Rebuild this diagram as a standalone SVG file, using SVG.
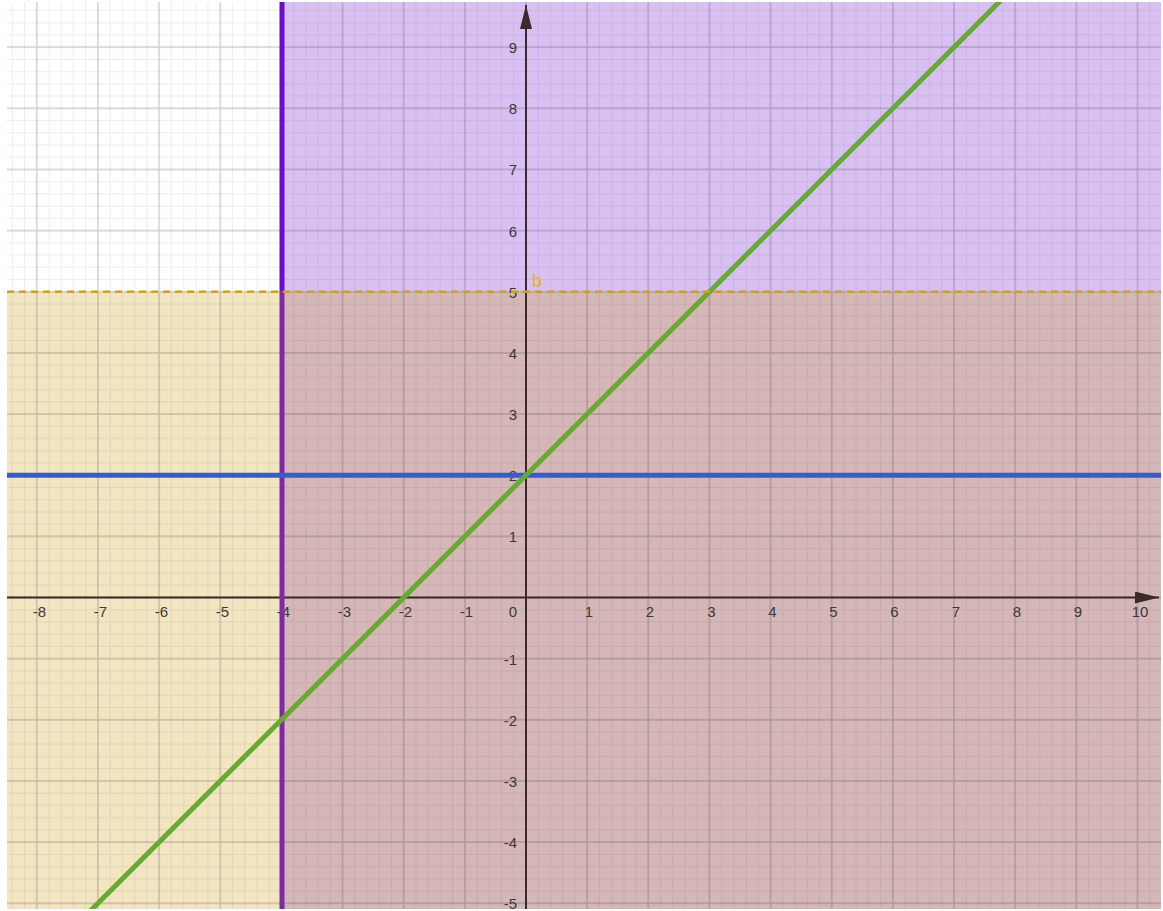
<svg xmlns="http://www.w3.org/2000/svg" width="1163" height="911" viewBox="0 0 1163 911">
<style>
.lbl{font-family:"Liberation Sans",Arial,sans-serif;font-size:15px;fill:#3a3a3a}
.xl{text-anchor:middle}
.yl{text-anchor:end}
.minor{stroke:#000;stroke-opacity:0.07;stroke-width:1}
.major{stroke:#000;stroke-opacity:0.19;stroke-width:1.4}
</style>
<defs>
<clipPath id="plot"><rect x="7" y="2" width="1154" height="907"/></clipPath>
<pattern id="grid" patternUnits="userSpaceOnUse" x="495.425" y="566.925" width="61.15" height="61.15">
<path class="minor" d="M6.115 0V61.15M18.345 0V61.15M42.805 0V61.15M55.035 0V61.15M0 6.115H61.15M0 18.345H61.15M0 42.805H61.15M0 55.035H61.15"/>
<path class="major" d="M30.575 0V61.15M0 30.575H61.15"/>
</pattern>
<marker id="ah" viewBox="0 0 24 12" refX="24" refY="6" markerWidth="24" markerHeight="12" markerUnits="userSpaceOnUse" orient="auto"><path d="M0 0L24 6L0 12Z" fill="#3a2a2a"/></marker>
</defs>
<rect width="1163" height="911" fill="#fff"/>
<g id="regions" clip-path="url(#plot)">
<rect x="7" y="2" width="1154" height="907" fill="#fff"/>
<rect x="282" y="2" width="879" height="289.75" fill="#d9c0f2"/>
<rect x="7" y="291.75" width="275" height="617.25" fill="#f2e5c1"/>
<rect x="282" y="291.75" width="879" height="617.25" fill="#d6b7b8"/>
<rect x="7" y="2" width="1154" height="907" fill="url(#grid)"/>
</g>
<g id="axes" clip-path="url(#plot)">
<line x1="7" y1="597.5" x2="1159" y2="597.5" stroke="#3a2a2a" stroke-width="2" marker-end="url(#ah)"/>
<line x1="526" y1="909" x2="526" y2="5" stroke="#3a2a2a" stroke-width="2" marker-end="url(#ah)"/>
</g>
<g id="labels">
<text class="lbl xl" x="39.5" y="617">-8</text>
<text class="lbl xl" x="100.5" y="617">-7</text>
<text class="lbl xl" x="161.5" y="617">-6</text>
<text class="lbl xl" x="222.5" y="617">-5</text>
<text class="lbl xl" x="283.5" y="617">-4</text>
<text class="lbl xl" x="344.5" y="617">-3</text>
<text class="lbl xl" x="405.5" y="617">-2</text>
<text class="lbl xl" x="466.5" y="617">-1</text>
<text class="lbl xl" x="513" y="617">0</text>
<text class="lbl xl" x="589" y="617">1</text>
<text class="lbl xl" x="650" y="617">2</text>
<text class="lbl xl" x="711.5" y="617">3</text>
<text class="lbl xl" x="772.5" y="617">4</text>
<text class="lbl xl" x="833.5" y="617">5</text>
<text class="lbl xl" x="894.5" y="617">6</text>
<text class="lbl xl" x="956" y="617">7</text>
<text class="lbl xl" x="1017" y="617">8</text>
<text class="lbl xl" x="1078" y="617">9</text>
<text class="lbl xl" x="1140" y="617">10</text>
<text class="lbl yl" x="517" y="53">9</text>
<text class="lbl yl" x="517" y="114">8</text>
<text class="lbl yl" x="517" y="175">7</text>
<text class="lbl yl" x="517" y="236.5">6</text>
<text class="lbl yl" x="517" y="297.5">5</text>
<text class="lbl yl" x="517" y="358.5">4</text>
<text class="lbl yl" x="517" y="420">3</text>
<text class="lbl yl" x="517" y="481">2</text>
<text class="lbl yl" x="517" y="542">1</text>
<text class="lbl yl" x="517" y="665">-1</text>
<text class="lbl yl" x="517" y="726">-2</text>
<text class="lbl yl" x="517" y="787">-3</text>
<text class="lbl yl" x="517" y="848">-4</text>
<text class="lbl yl" x="517" y="909">-5</text>
</g>
<g id="connectors" clip-path="url(#plot)">
<line id="x-eq-neg4-top" x1="282" y1="2" x2="282" y2="291.75" stroke="#6a0cd0" stroke-width="5"/>
<line id="x-eq-neg4-bottom" x1="282" y1="291.75" x2="282" y2="909" stroke="#7e29a6" stroke-width="5"/>
<line id="y-eq-2" x1="7" y1="475.2" x2="1161" y2="475.2" stroke="#3b5bc9" stroke-width="5"/>
<line id="y-eq-x-plus-2" x1="36.8" y1="964.4" x2="1015.2" y2="-14" stroke="#66aa33" stroke-width="5"/>
<line id="b-dashed" x1="7" y1="291.75" x2="1161" y2="291.75" stroke="#d4a012" stroke-width="2.5" stroke-dasharray="7 5"/>
</g>
<g id="label-b">
<text x="532" y="287" font-family="Liberation Sans, Arial, sans-serif" font-size="18" fill="#e8b420">b</text>
</g>
</svg>
